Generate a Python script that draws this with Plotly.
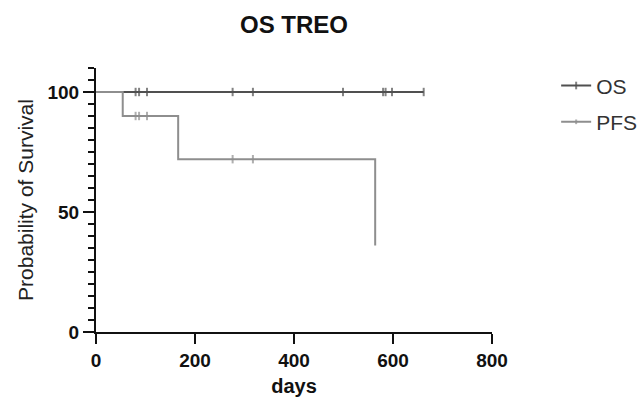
import plotly.graph_objects as go

# OS curve: times (days), survival (%), censored flag
os_days = [0, 80, 87, 103, 276, 317, 499, 580, 585, 598, 662]
os_surv = [100, 100, 100, 100, 100, 100, 100, 100, 100, 100, 100]
os_cens = [0, 1, 1, 1, 1, 1, 1, 1, 1, 1, 1]

# PFS curve
pfs_days = [0, 54, 80, 87, 103, 166, 276, 317, 564]
pfs_surv = [100, 90, 90, 90, 90, 72, 72, 72, 36]
pfs_cens = [0, 0, 1, 1, 1, 0, 1, 1, 0]

x_ticks = [0, 200, 400, 600, 800]
y_ticks = [0, 50, 100]

FONT = "Arial, Liberation Sans, sans-serif"
OS_COLOR = "#505050"
PFS_COLOR = "#8e8e8e"
INK = "#111111"

fig = go.Figure()
fig.add_trace(go.Scatter(
    x=os_days, y=os_surv, name="OS", mode="lines+markers", legendgroup="os",
    line=dict(shape="hv", color=OS_COLOR, width=2),
    marker=dict(symbol="line-ns", size=[6 * c for c in os_cens],
                line=dict(color=OS_COLOR, width=2), color=OS_COLOR),
))
fig.add_trace(go.Scatter(
    x=pfs_days, y=pfs_surv, name="PFS", mode="lines+markers", legendgroup="pfs",
    line=dict(shape="hv", color=PFS_COLOR, width=2),
    marker=dict(symbol="line-ns", size=[6 * c for c in pfs_cens],
                line=dict(color=PFS_COLOR, width=2), color=PFS_COLOR),
))

fig.update_layout(
    width=638, height=400,
    margin=dict(l=96, r=146, t=68, b=68, autoexpand=False),
    paper_bgcolor="white", plot_bgcolor="white",
    font=dict(family=FONT, color=INK),
    title=dict(text="<b>OS TREO</b>", xref="paper", x=0.5, xanchor="center",
               yref="container", y=1 - 25 / 400, yanchor="middle",
               font=dict(size=24, family=FONT, color=INK)),
    showlegend=True,
    legend=dict(x=1.162, y=1.01, xanchor="left", yanchor="top",
                font=dict(size=21, family=FONT, color="#333333"),
                bgcolor="rgba(0,0,0,0)", itemwidth=30,
                traceorder="grouped", tracegroupgap=6),
    xaxis=dict(
        range=[0, 800], tickvals=x_ticks, ticktext=[f"<b>{v}</b>" for v in x_ticks],
        showgrid=False, zeroline=False, showline=True, linecolor=INK, linewidth=2,
        ticks="outside", ticklen=10, tickwidth=2, tickcolor=INK,
        tickfont=dict(size=19, family=FONT, color=INK),
        title=dict(text="<b>days</b>", font=dict(size=20, family=FONT, color=INK), standoff=9),
    ),
    yaxis=dict(
        range=[0, 110], tickvals=y_ticks, ticktext=[f"<b>{v}</b>" for v in y_ticks],
        showgrid=False, zeroline=False, showline=True, linecolor=INK, linewidth=2,
        ticks="outside", ticklen=11, tickwidth=2, tickcolor=INK,
        tickfont=dict(size=19, family=FONT, color=INK),
        minor=dict(dtick=5, ticks="outside", ticklen=6, tickwidth=2, tickcolor=INK, showgrid=False),
        title=dict(text="Probability of Survival", font=dict(size=21, family=FONT, color="#222222"), standoff=8),
    ),
)

fig.write_html("out.html")
